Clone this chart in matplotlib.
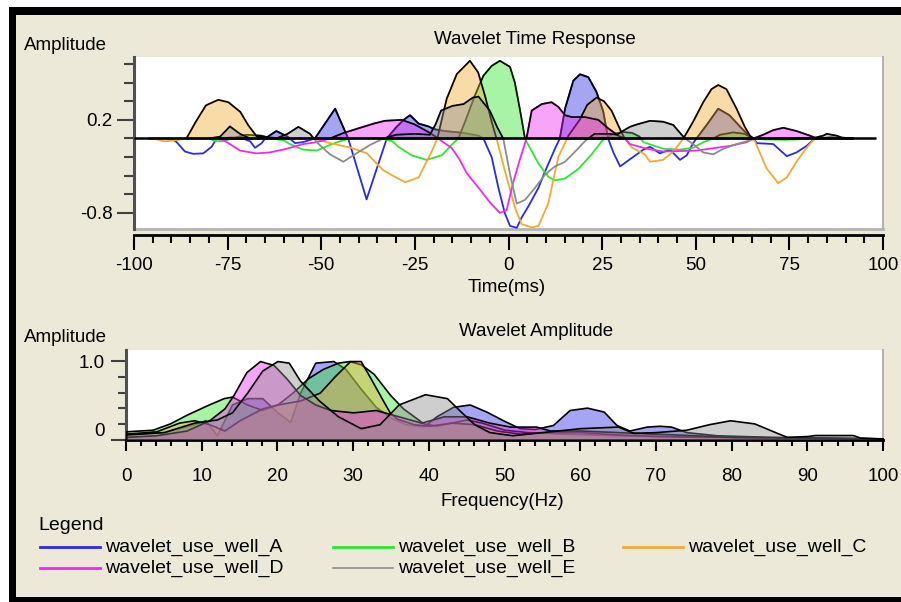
import numpy as np
import matplotlib
matplotlib.use("Agg")
from matplotlib import pyplot as plt
from matplotlib.patches import Rectangle
from matplotlib.lines import Line2D
from matplotlib.colors import to_rgba
from matplotlib.ticker import MultipleLocator, FixedLocator

plt.rcParams['font.family'] = 'Liberation Sans'
plt.rcParams['font.size'] = 13.5
plt.rcParams['axes.unicode_minus'] = False

names = ["wavelet_use_well_A", "wavelet_use_well_B", "wavelet_use_well_C",
         "wavelet_use_well_D", "wavelet_use_well_E"]
colors = ["#2a2ae6", "#2ee62e", "#f2aa30", "#f028f0", "#8c8c8c"]

# time response (ms, amplitude)
time_a = [-96, -90, -88.6, -86.4, -84.2, -81.5, -79.3, -77.9, -74, -71, -69, -67.7, -65.9, -65, -62,
          -59, -57, -55, -51.7, -46.3, -42.8, -37.9, -32.5, -30, -28, -26.3, -24, -21.4, -19.8, -17,
          -12, -8, -6.7, -4.5, -2.7, -1, 0.4, 2.2, 3.5, 5.3, 8, 9.7, 12.4, 13.7, 15.1,
          17.3, 19.1, 21.3, 23.5, 25.3, 26.6, 28, 29.8, 32.9, 36, 37.8, 40.4, 43.1, 45.8, 47.6,
          49.3, 50.2, 53, 56, 59, 62, 64, 65.5, 66.3, 70.7, 74.3, 76.9, 79.6, 81.8, 86, 92]
resp_a = [0, 0, -0.04, -0.14, -0.165, -0.16, -0.09, 0, 0.01, 0, -0.03, -0.1, -0.05, 0, 0.08,
          0.02, -0.05, -0.04, 0, 0.32, 0, -0.655, 0, 0.12, 0.2, 0.25, 0.16, 0.13, 0.1, 0.08,
          0.06, 0.03, 0, -0.2, -0.53, -0.8, -0.94, -0.96, -0.85, -0.73, -0.53, -0.36, -0.11, 0, 0.32,
          0.62, 0.69, 0.66, 0.5, 0.29, 0, -0.15, -0.3, -0.21, -0.12, -0.09, -0.16, -0.12, -0.23, -0.18,
          -0.05, 0, 0.15, 0.32, 0.25, 0.12, 0.04, 0, -0.05, -0.06, -0.19, -0.15, -0.08, 0, 0.01, 0]

time_b = [-96, -80, -78, -76, -74, -70, -66, -63, -60, -58.4, -54.8, -51.2, -47.7, -45, -42.3,
          -34, -31, -29.4, -25.9, -21.9, -17.8, -15.2, -13.4, -11.6, -9, -6.7, -4.5, -2.3, 0.4, 1.7,
          3.1, 4.4, 5.3, 8, 10.6, 12.4, 15.1, 18.6, 22.2, 24.9, 25.8, 28, 30.5, 33, 35,
          36, 41.3, 45.8, 49.3, 52, 54.7, 56.5, 60, 63, 65.4, 68, 73.4, 77, 80, 92]
resp_b = [0, 0, -0.03, -0.03, 0, 0.04, 0.03, 0, -0.02, -0.06, -0.12, -0.13, -0.07, -0.03, 0,
          0, -0.03, -0.09, -0.18, -0.23, -0.18, -0.07, 0, 0.18, 0.46, 0.675, 0.78, 0.835, 0.77, 0.6,
          0.3, 0, -0.07, -0.27, -0.41, -0.45, -0.43, -0.33, -0.17, -0.03, 0, 0.05, 0.07, 0.06, 0.02,
          -0.04, -0.11, -0.12, -0.1, -0.04, 0, 0.04, 0.065, 0.05, 0, -0.01, -0.015, -0.01, 0, 0]

time_c = [-96, -94, -92, -89, -86, -83.5, -80.8, -77.5, -74.8, -71.6, -69.5, -67.2, -60, -52, -47.7,
          -42, -37.8, -33.5, -30, -27.6, -24, -20.5, -19, -16.5, -13.8, -10.3, -8.1, -6.3, -4.5, -3.2,
          -0.95, 1.7, 3.5, 6.2, 8, 10.6, 13.3, 16, 19, 21, 23.5, 25.5, 27.5, 30, 31,
          33, 36.4, 37.8, 41.3, 44, 46.7, 49.3, 52, 54.2, 56, 58.2, 60.9, 63.1, 64.9, 65.8,
          68.9, 72, 74.3, 76.9, 79.6, 81.8, 86, 92]
resp_c = [0, -0.01, -0.03, -0.02, 0, 0.18, 0.356, 0.416, 0.39, 0.285, 0.143, 0.02, 0, 0, -0.05,
          -0.1, -0.16, -0.34, -0.42, -0.47, -0.42, -0.14, 0, 0.427, 0.693, 0.835, 0.71, 0.462, 0.18, 0,
          -0.35, -0.74, -0.92, -0.956, -0.94, -0.7, -0.2, 0.03, 0.2, 0.36, 0.44, 0.4, 0.3, 0.08, 0,
          -0.1, -0.17, -0.25, -0.23, -0.14, 0, 0.18, 0.39, 0.53, 0.575, 0.53, 0.32, 0.125, 0, -0.03,
          -0.32, -0.48, -0.42, -0.25, -0.1, 0, 0.01, 0]

time_d = [-96, -78, -76, -74.4, -71.7, -67.3, -63.7, -59.2, -54.8, -51.2, -47.7, -44, -40, -36, -33,
          -28.5, -25, -21, -18.7, -17.8, -15.2, -13, -11.2, -7.6, -4.9, -2.3, -0.5, 1.2, 3, 4.8,
          6.2, 8.9, 11.5, 13.3, 15.1, 16.9, 20.4, 24, 26.6, 29.3, 31.1, 32.4, 36.9, 41.3, 50.2,
          59.1, 63.6, 65.4, 68, 70.7, 73.4, 76.9, 80.5, 82.3, 92]
resp_d = [0, 0, -0.02, -0.06, -0.13, -0.16, -0.15, -0.11, -0.06, -0.04, 0, 0.06, 0.11, 0.16, 0.19,
          0.2, 0.15, 0.06, 0, -0.03, -0.1, -0.23, -0.37, -0.55, -0.69, -0.8, -0.77, -0.48, -0.23, 0,
          0.3, 0.37, 0.39, 0.34, 0.25, 0.23, 0.23, 0.2, 0.11, 0.03, 0, -0.06, -0.11, -0.14, -0.13,
          -0.08, -0.04, 0, 0.04, 0.09, 0.115, 0.08, 0.03, 0, 0]

time_e = [-96, -80, -77, -74.4, -71.7, -69, -62, -59, -56.1, -53, -51.2, -47.7, -44.1, -40.6, -37,
          -33.4, -30, -25, -21, -19.5, -18, -15, -12, -9.5, -8, -5, -3, -1.4, 0.5, 2.2,
          4.4, 7.1, 9.7, 12.4, 15.1, 17.8, 20.4, 21.3, 23, 27, 29, 30.5, 32.4, 34.2, 37.8,
          41.3, 44, 45.8, 47.1, 49.3, 52, 54.7, 57.4, 60.9, 64.5, 66, 75, 82, 84, 85,
          87.6, 89, 92]
resp_e = [0, 0, 0.02, 0.13, 0.05, 0, 0, 0.05, 0.125, 0.05, -0.04, -0.17, -0.25, -0.16, -0.07,
          0, 0.04, 0.05, 0.04, 0.15, 0.3, 0.35, 0.37, 0.44, 0.45, 0.3, 0.12, 0, -0.4, -0.7,
          -0.66, -0.53, -0.39, -0.3, -0.25, -0.14, -0.03, 0, 0.05, 0.05, 0.04, 0.08, 0.125, 0.15, 0.19,
          0.18, 0.145, 0.06, 0, -0.06, -0.15, -0.17, -0.11, -0.06, -0.02, 0, 0, 0.01, 0.03, 0.05,
          0.03, 0.01, 0]

# amplitude spectra (Hz, normalised amplitude)
freq_a = [0, 5, 9, 10.5, 12, 14, 16, 18, 20, 21.7, 23, 25, 27.4, 29, 31, 33, 35, 37, 39.3, 41,
          43.2, 45.4, 47.6, 49.8, 52, 54, 56.4, 58.6, 60.9, 63.1, 64.8, 66.5, 68.8, 70.5, 72, 74,
          78, 85, 92, 100]
spec_a = [0.08, 0.1, 0.2, 0.25, 0.06, 0.45, 0.53, 0.53, 0.35, 0.23, 0.6, 0.98, 1.0, 0.9, 0.65,
          0.42, 0.28, 0.2, 0.17, 0.3, 0.42, 0.45, 0.36, 0.25, 0.15, 0.14, 0.19, 0.38, 0.41, 0.36,
          0.19, 0.12, 0.17, 0.18, 0.17, 0.1, 0.06, 0.04, 0.03, 0.02]

freq_b = [0, 3.5, 5.8, 8, 10.7, 12.9, 14, 16, 18, 20, 22, 24, 26, 28, 29.5, 31, 32.7, 34.9, 36.6,
          39.3, 41, 43, 45, 47, 50, 53, 58, 65, 75, 85, 100]
spec_b = [0.11, 0.13, 0.21, 0.32, 0.44, 0.53, 0.55, 0.45, 0.38, 0.45, 0.6, 0.78, 0.9, 0.98, 1.0,
          0.96, 0.84, 0.57, 0.4, 0.21, 0.18, 0.22, 0.26, 0.22, 0.13, 0.1, 0.08, 0.06, 0.04, 0.03, 0.01]

freq_c = [0, 4, 7, 9, 11, 13, 15, 18, 20, 23, 25.6, 27.5, 29.6, 31, 32.2, 34, 34.9, 35.8, 38, 40,
          43, 46, 49, 52, 56, 60, 65, 70, 80, 90, 100]
spec_c = [0.08, 0.11, 0.22, 0.25, 0.2, 0.12, 0.25, 0.4, 0.45, 0.5, 0.6, 0.8, 1.0, 1.0, 0.8, 0.49,
          0.34, 0.27, 0.2, 0.18, 0.22, 0.2, 0.12, 0.08, 0.1, 0.1, 0.07, 0.05, 0.04, 0.03, 0.02]

freq_d = [0, 4, 8, 11, 13, 14.2, 15.9, 17.7, 19.5, 21.2, 23, 25, 27, 30, 33, 36, 39, 42, 45, 48,
          50.7, 54.2, 56, 60, 65, 70, 75, 80, 90, 100]
spec_d = [0.04, 0.06, 0.12, 0.25, 0.4, 0.57, 0.86, 1.0, 0.95, 0.78, 0.57, 0.45, 0.38, 0.35, 0.38,
          0.3, 0.22, 0.3, 0.3, 0.22, 0.17, 0.17, 0.12, 0.12, 0.1, 0.08, 0.06, 0.04, 0.03, 0.02]

freq_e = [0, 5, 9, 12, 14, 16, 18, 20, 21.5, 23, 25.5, 28, 31, 33.5, 36, 39.5, 42.4, 44, 46, 48,
          51, 55, 60, 65, 67, 70, 74, 77, 79.8, 83, 86, 87.3, 90, 91, 96, 97, 100]
spec_e = [0.07, 0.1, 0.22, 0.26, 0.35, 0.6, 0.88, 1.0, 0.98, 0.75, 0.5, 0.3, 0.15, 0.2, 0.45, 0.58,
          0.53, 0.38, 0.2, 0.1, 0.06, 0.1, 0.15, 0.17, 0.09, 0.1, 0.13, 0.2, 0.25, 0.21, 0.09, 0.04,
          0.05, 0.063, 0.063, 0.03, 0.02]

times = [time_a, time_b, time_c, time_d, time_e]
resps = [resp_a, resp_b, resp_c, resp_d, resp_e]
freqs = [freq_a, freq_b, freq_c, freq_d, freq_e]
specs = [spec_a, spec_b, spec_c, spec_d, spec_e]

W, H = 901, 602
BG = "#ece9d8"


def fx(x):
    return x / W


def fy(y):
    return 1 - y / H


def box(x0, y0, x1, y1, color, z):
    # rectangle given in pixel coords, top-left origin
    fig.add_artist(Rectangle((fx(x0), fy(y1)), (x1 - x0) / W, (y1 - y0) / H,
                             transform=fig.transFigure, facecolor=color, edgecolor="none", zorder=z))


fig = plt.figure(figsize=(W / 100, H / 100), dpi=100)
fig.patch.set_facecolor(BG)
# window frame: white margin, black edge on top, left and bottom
box(0, 0, W, 7, "white", -10)
box(0, 0, 9, H, "white", -10)
box(9, 7, W, 15, "black", -9)
box(9, 7, 16, H, "black", -9)
box(9, 597, W, H, "black", -9)


def frame(ax):
    ax.set_facecolor("white")
    ax.spines['top'].set_visible(False)
    ax.spines['right'].set_color("#b4b4b4")
    ax.spines['right'].set_linewidth(1.5)
    ax.spines['left'].set_color("#505050")
    ax.spines['left'].set_linewidth(2.2)
    ax.spines['bottom'].set_color("black")
    ax.spines['bottom'].set_linewidth(2)
    ax.plot([0, 1], [0, 0], transform=ax.transAxes, color="#b4b4b4", lw=2, clip_on=False, zorder=1)


# ---- time response ----
ax1 = fig.add_axes([fx(134), fy(229), (883 - 134) / W, (229 - 57) / H])
frame(ax1)
ax1.spines['bottom'].set_position(('outward', 4))

for t, r, c in zip(times, resps, colors):
    ax1.plot(t, r, color=c, lw=1.3, zorder=2)
for t, r, c in zip(times, resps, colors):
    t = np.array(t)
    r = np.array(r)
    ax1.fill_between(t, r, 0, where=r > 0, interpolate=True,
                     facecolor=to_rgba(c, 0.42), edgecolor="black", linewidth=1.2, zorder=3)
ax1.hlines(0, -100, 98, color="black", lw=1.8, zorder=4)

ax1.set_xlim(-100, 100)
ax1.set_ylim(-0.973, 0.876)
ax1.xaxis.set_major_locator(MultipleLocator(25))
ax1.xaxis.set_minor_locator(MultipleLocator(5))
ax1.set_yticks([-0.8, 0.2])
ax1.set_yticklabels(["-0.8", "0.2"])
ax1.yaxis.set_minor_locator(FixedLocator([-0.6, -0.4, -0.2, 0, 0.4, 0.6, 0.8]))
ax1.tick_params(axis='x', which='major', direction='out', length=11, width=1.5, pad=5)
ax1.tick_params(axis='x', which='minor', direction='out', length=5.5, width=1.5)
ax1.tick_params(axis='y', which='major', direction='out', length=12, width=1.5, pad=3.5, color="#404040")
ax1.tick_params(axis='y', which='minor', direction='out', length=7, width=1.5, color="#404040")

fig.text(fx(24), fy(45), "Amplitude", ha="left", va="center")
fig.text(fx(535), fy(39), "Wavelet Time Response", ha="center", va="center")
fig.text(fx(507), fy(288), "Time(ms)", ha="center", va="center")

# ---- amplitude spectra ----
ax2 = fig.add_axes([fx(126), fy(440), (883 - 126) / W, (440 - 350) / H])
frame(ax2)
for f, s, c in zip(freqs, specs, colors):
    ax2.fill_between(f, s, 0, facecolor=to_rgba(c, 0.42), edgecolor="black", linewidth=1.2, zorder=3)

ax2.set_xlim(0, 100)
ax2.set_ylim(0, 1.14)
ax2.xaxis.set_major_locator(MultipleLocator(10))
ax2.xaxis.set_minor_locator(MultipleLocator(2))
ax2.set_yticks([0, 1.0])
ax2.set_yticklabels(["0", "1.0"])
ax2.get_yticklabels()[0].set_va("bottom")
ax2.yaxis.set_minor_locator(FixedLocator([0.2, 0.4, 0.6, 0.8]))
ax2.tick_params(axis='x', which='major', direction='out', length=8, width=1.5, pad=12)
ax2.tick_params(axis='x', which='minor', direction='out', length=4.5, width=1.5)
ax2.tick_params(axis='y', which='major', direction='out', length=11, width=1.5, pad=4, color="#404040")
ax2.tick_params(axis='y', which='minor', direction='out', length=6, width=1.5, color="#404040")

fig.text(fx(24), fy(338), "Amplitude", ha="left", va="center")
fig.text(fx(536), fy(331), "Wavelet Amplitude", ha="center", va="center")
fig.text(fx(502), fy(501), "Frequency(Hz)", ha="center", va="center")

# ---- legend ----
fig.text(fx(38), fy(525), "Legend", ha="left", va="center", fontsize=14)
slots = [(40, 547), (333, 547), (623, 547), (40, 568), (333, 568)]
for (x0, y0), name, c in zip(slots, names, colors):
    lw = 1.2 if c == "#8c8c8c" else 2
    fig.add_artist(Line2D([fx(x0), fx(x0 + 60)], [fy(y0), fy(y0)], transform=fig.transFigure,
                          color=c, lw=lw))
    fig.text(fx(x0 + 65), fy(y0), name, ha="left", va="center", fontsize=14)

plt.savefig("out.png", dpi=100, facecolor=fig.get_facecolor())
